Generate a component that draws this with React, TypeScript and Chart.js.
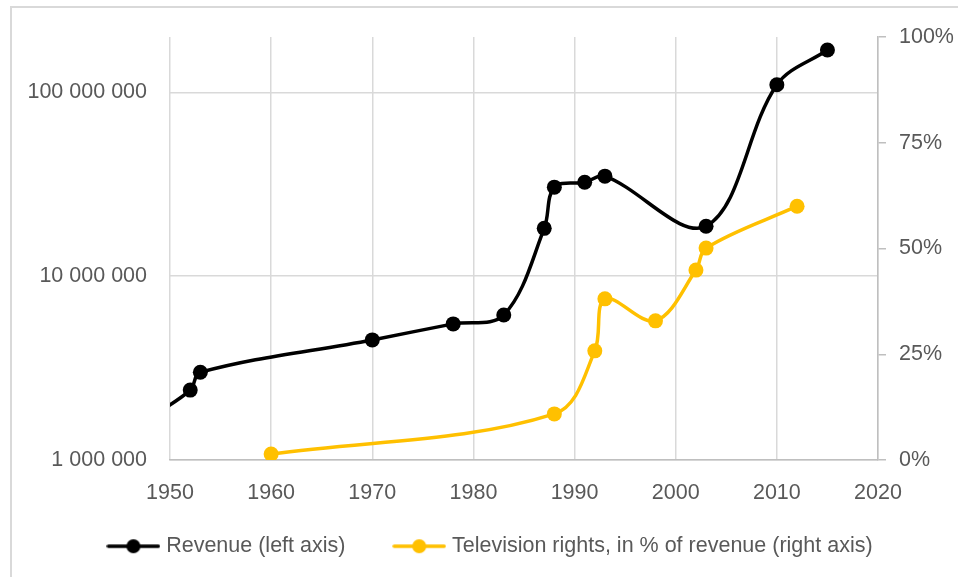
import { useEffect, useRef } from 'react';
import { Chart, registerables } from 'chart.js';

Chart.register(...registerables);

// ---- data ----
const revenueYears = [1948, 1952, 1953, 1970, 1978, 1983, 1987, 1988, 1991, 1993, 2003, 2010, 2015];
const revenueValues = [1700000, 2400000, 3000000, 4500000, 5500000, 6150000, 18200000, 30500000, 32400000, 35000000, 18700000, 110000000, 170000000];
const tvYears = [1960, 1988, 1992, 1993, 1998, 2002, 2003, 2012];
const tvShares = [1.4, 10.9, 25.8, 38.1, 32.9, 44.9, 50.1, 60];
const xTicks = [1950, 1960, 1970, 1980, 1990, 2000, 2010, 2020];
const leftTicks = [1000000, 10000000, 100000000];
const rightTicks = [0, 25, 50, 75, 100];
const seriesLabels = ['Revenue (left axis)', 'Television rights, in % of revenue (right axis)'];

const BLACK = '#000000';
const GOLD = '#FFC000';
const TEXT = '#595959';
const FONT = "'Liberation Sans', Arial, sans-serif";
const FS = 21.5;

function fmtSpaces(v: number) {
  return String(Math.round(v)).replace(/\B(?=(\d{3})+(?!\d))/g, ' ');
}

function legendMarker(color: string) {
  const c = document.createElement('canvas');
  c.width = 54;
  c.height = 16;
  const ctx = c.getContext('2d')!;
  ctx.strokeStyle = color;
  ctx.lineWidth = 3.5;
  ctx.lineCap = 'round';
  ctx.beginPath();
  ctx.moveTo(2, 8);
  ctx.lineTo(52, 8);
  ctx.stroke();
  ctx.fillStyle = color;
  ctx.beginPath();
  ctx.arc(27, 8, 7, 0, Math.PI * 2);
  ctx.fill();
  return c;
}

export default function App() {
  const ref = useRef<HTMLCanvasElement | null>(null);

  useEffect(() => {
    if (!ref.current) return;
    const markers = [legendMarker(BLACK), legendMarker(GOLD)];
    const chart = new Chart(ref.current, {
      type: 'line',
      data: {
        datasets: [
          {
            label: seriesLabels[0],
            data: revenueYears.map((x, i) => ({ x, y: revenueValues[i] })),
            yAxisID: 'y',
            borderColor: BLACK,
            backgroundColor: BLACK,
            pointBackgroundColor: BLACK,
            borderWidth: 3.5,
            pointRadius: 7.5,
            pointBorderWidth: 0,
            tension: 0.35,
            capBezierPoints: false,
          },
          {
            label: seriesLabels[1],
            data: tvYears.map((x, i) => ({ x, y: tvShares[i] })),
            yAxisID: 'y1',
            borderColor: GOLD,
            backgroundColor: GOLD,
            pointBackgroundColor: GOLD,
            borderWidth: 3.5,
            pointRadius: 7.5,
            pointBorderWidth: 0,
            tension: 0.35,
            capBezierPoints: false,
          },
        ],
      },
      options: {
        responsive: false,
        animation: false,
        layout: { padding: { top: 37, left: 26, right: 0, bottom: 10 } },
        font: { family: FONT, size: FS },
        scales: {
          x: {
            type: 'linear',
            min: 1950,
            max: 2020,
            afterBuildTicks: (s: any) => { s.ticks = xTicks.map((v) => ({ value: v })); },
            afterFit: (s: any) => { s.height = 65.5; },
            grid: { color: '#d9d9d9', lineWidth: 1.5, drawTicks: false },
            border: { display: true, color: '#bfbfbf', width: 1.5 },
            ticks: {
              color: TEXT,
              font: { family: FONT, size: FS },
              padding: 20,
              maxRotation: 0,
              callback: (v: any) => String(v),
            },
          },
          y: {
            type: 'logarithmic',
            position: 'left',
            min: 1000000,
            max: 200000000,
            afterBuildTicks: (s: any) => { s.ticks = leftTicks.map((v) => ({ value: v })); },
            afterFit: (s: any) => { s.width = 144; },
            grid: { color: '#d9d9d9', lineWidth: 1.5, drawTicks: false },
            border: { display: false },
            ticks: {
              color: TEXT,
              font: { family: FONT, size: FS },
              padding: 23,
              callback: (v: any) => fmtSpaces(Number(v)),
            },
          },
          y1: {
            type: 'linear',
            position: 'right',
            min: 0,
            max: 100,
            afterBuildTicks: (s: any) => { s.ticks = rightTicks.map((v) => ({ value: v })); },
            afterFit: (s: any) => { s.width = 80; },
            grid: { drawOnChartArea: false, drawTicks: true, tickLength: 8, color: '#bfbfbf', lineWidth: 1.5 },
            border: { display: true, color: '#bfbfbf', width: 1.5 },
            ticks: {
              color: TEXT,
              font: { family: FONT, size: FS },
              padding: 13,
              callback: (v: any) => v + '%',
            },
          },
        },
        plugins: {
          tooltip: { enabled: false },
          legend: {
            display: true,
            position: 'bottom',
            labels: {
              usePointStyle: true,
              pointStyleWidth: 44,
              padding: 10,
              color: TEXT,
              font: { family: FONT, size: FS },
              generateLabels: (ch: any) =>
                ch.data.datasets.map((d: any, i: number) => ({
                  text: i === 0 ? d.label + '       ' : d.label,
                  pointStyle: markers[i],
                  fillStyle: d.borderColor,
                  strokeStyle: d.borderColor,
                  lineWidth: 0,
                  hidden: false,
                  datasetIndex: i,
                  fontColor: TEXT,
                })),
            },
          },
        },
      },
    } as any);
    return () => chart.destroy();
  }, []);

  return (
    <div style={{ position: 'fixed', left: 0, top: 0, width: 958, height: 577, background: '#fff', overflow: 'hidden' }}>
      <div
        style={{
          position: 'absolute',
          left: 10,
          top: 6,
          width: 2000,
          height: 2000,
          border: '2px solid #d9d9d9',
          boxSizing: 'border-box',
        }}
      />
      <canvas ref={ref} width={958} height={577} style={{ position: 'absolute', left: 0, top: 0, width: 958, height: 577 }} />
    </div>
  );
}
